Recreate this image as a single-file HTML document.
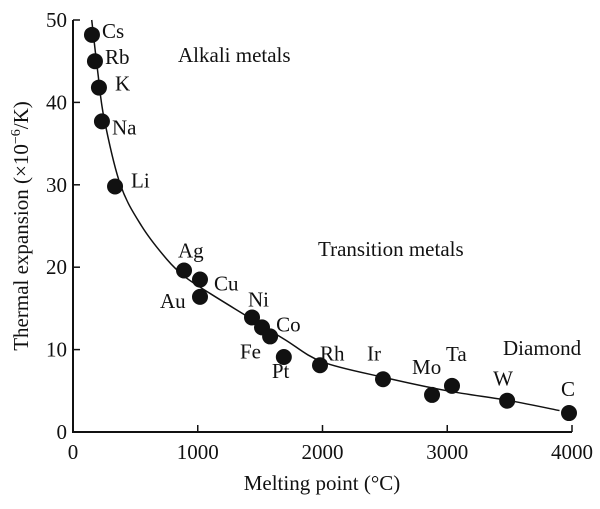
<!DOCTYPE html>
<html><head><meta charset="utf-8"><style>
body{margin:0;background:#fff}
svg text{font-family:"Liberation Serif",serif;fill:#111}
</style></head><body>
<svg id="c" width="600" height="504" xmlns="http://www.w3.org/2000/svg">
<g id="axes"></g>
<path id="curve" fill="none" stroke="#111" stroke-width="1.5"/>
<g id="pts"></g>
<text x="178" y="62" font-size="21">Alkali metals</text>
<text x="318" y="256" font-size="21">Transition metals</text>
<text x="503" y="355" font-size="21">Diamond</text>
<text x="322" y="490" font-size="21" text-anchor="middle">Melting point (°C)</text>
<text transform="translate(28,226) rotate(-90)" font-size="21" text-anchor="middle">Thermal expansion (×10<tspan dy="-8" font-size="14">−6</tspan><tspan dy="8">/K)</tspan></text>
</svg>
<script>
const elements=["Cs","Rb","K","Na","Li","Ag","Cu","Au","Ni","Fe","Co","Pt","Rh","Ir","Mo","Ta","W","C"];
const meltX=[152,176,208,232,337,890,1018,1018,1435,1515,1580,1690,1980,2485,2878,3038,3480,3976];
const expY=[48.2,45,41.8,37.7,29.8,19.6,18.5,16.4,13.9,12.7,11.6,9.1,8.1,6.4,4.5,5.6,3.8,2.3];
const labelDx=[10,10,16,10,16,-6,14,-40,-4,-22,6,-12,0,-16,-20,-6,-14,-8];
const labelDy=[-4,-4,-4,6,-6,-20,4,4,-18,24,-12,14,-12,-26,-28,-32,-22,-24];
const curveX=[150,200,250,380,550,750,900,1100,1400,1700,2000,2500,3000,3500,3900];
const curveY=[50,43.5,38,30,25,21,18.8,16.8,14,11.2,8.5,6.6,5.0,3.8,2.6];
const xTicks=[0,1000,2000,3000,4000];
const yTicks=[0,10,20,30,40,50];
const NS="http://www.w3.org/2000/svg";
const sx=v=>73+v*0.12475, sy=v=>432-v*8.24;
function mk(t,a,p){const e=document.createElementNS(NS,t);for(const k in a)e.setAttribute(k,a[k]);p.appendChild(e);return e;}
const ax=document.getElementById('axes');
let l=mk('path',{d:`M${sx(0)},${sy(50)}V${sy(0)}H${sx(4000)}`,fill:'none',stroke:'#111','stroke-width':2},ax);


xTicks.forEach(v=>{const g=mk('g',{},ax);


mk('line',{x1:sx(v),x2:sx(v),y1:sy(0),y2:sy(0)-7,stroke:'#111','stroke-width':1.5},g);
const t=mk('text',{x:sx(v),y:459,'font-size':21,'text-anchor':'middle'},g);t.textContent=v;});
yTicks.forEach(v=>{const g=mk('g',{},ax);


mk('line',{x1:sx(0),x2:sx(0)+7,y1:sy(v),y2:sy(v),stroke:'#111','stroke-width':1.5},g);
const t=mk('text',{x:67,y:sy(v)+7,'font-size':21,'text-anchor':'end'},g);t.textContent=v;});
const P=curveX.map((x,i)=>[sx(x),sy(curveY[i])]);
let d=`M${P[0][0]},${P[0][1]}`;
for(let i=0;i<P.length-1;i++){const p0=P[Math.max(i-1,0)],p1=P[i],p2=P[i+1],p3=P[Math.min(i+2,P.length-1)];
d+=`C${p1[0]+(p2[0]-p0[0])/6},${p1[1]+(p2[1]-p0[1])/6} ${p2[0]-(p3[0]-p1[0])/6},${p2[1]-(p3[1]-p1[1])/6} ${p2[0]},${p2[1]}`;}
document.getElementById('curve').setAttribute('d',d);
const pg=document.getElementById('pts');
elements.forEach((n,i)=>{const g=mk('g',{},pg);


const cx=sx(meltX[i]),cy=sy(expY[i]);
mk('circle',{cx:cx,cy:cy,r:8,fill:'#111'},g);
const t=mk('text',{x:cx+labelDx[i],y:cy+labelDy[i]+7,'font-size':21},g);t.textContent=n;});
</script>
</body></html>
